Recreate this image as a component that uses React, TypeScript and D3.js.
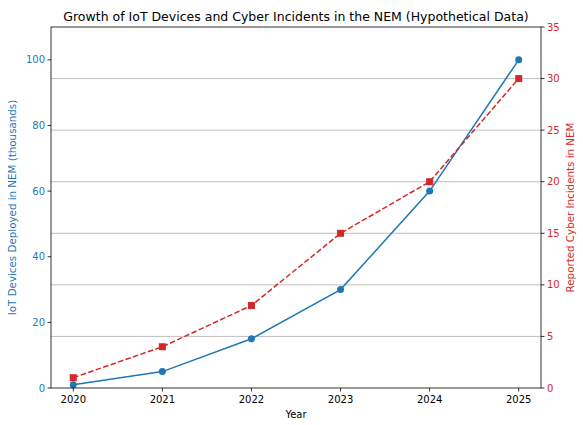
import React from 'react';
import * as d3 from 'd3';

const years = [2020, 2021, 2022, 2023, 2024, 2025];
const iotDevices = [1, 5, 15, 30, 60, 100];
const cyberIncidents = [1, 4, 8, 15, 20, 30];
const leftTicks = [0, 20, 40, 60, 80, 100];
const rightTicks = [0, 5, 10, 15, 20, 25, 30, 35];

const W = 583;
const H = 425;
const margin = { top: 27, right: 42, bottom: 37, left: 51 };
const BLUE = '#1f77b4';
const RED = '#d62728';
const FONT = 'DejaVu Sans, sans-serif';

export default function App() {
  const iw = W - margin.left - margin.right;
  const ih = H - margin.top - margin.bottom;

  const x = d3.scaleLinear().domain([2019.75, 2025.25]).range([0, iw]);
  const yL = d3.scaleLinear().domain([0, 110]).range([ih, 0]);
  const yR = d3.scaleLinear().domain([0, 35]).range([ih, 0]);

  const blueLine = d3
    .line<number>()
    .x((_, i) => x(years[i]))
    .y((d) => yL(d))(iotDevices);
  const redLine = d3
    .line<number>()
    .x((_, i) => x(years[i]))
    .y((d) => yR(d))(cyberIncidents);

  return (
    <svg width={W} height={H} style={{ position: 'absolute', left: 0, top: 0 }} fontFamily={FONT}>
      <rect width={W} height={H} fill="#fff" />
      <text x={margin.left + iw / 2} y={20.5} textAnchor="middle" fontSize={12.5} fill="#000">
        Growth of IoT Devices and Cyber Incidents in the NEM (Hypothetical Data)
      </text>
      <g transform={`translate(${margin.left},${margin.top})`}>
        {/* grid from right axis */}
        {rightTicks.slice(1, -1).map((t) => (
          <line key={t} x1={0} x2={iw} y1={yR(t)} y2={yR(t)} stroke="#b0b0b0" strokeWidth={0.8} />
        ))}

        <path d={blueLine ?? ''} fill="none" stroke={BLUE} strokeWidth={1.5} />
        {iotDevices.map((v, i) => (
          <circle key={i} cx={x(years[i])} cy={yL(v)} r={3.5} fill={BLUE} />
        ))}
        <path d={redLine ?? ''} fill="none" stroke={RED} strokeWidth={1.5} strokeDasharray="5.5,2.4" />
        {cyberIncidents.map((v, i) => (
          <rect key={i} x={x(years[i]) - 3.5} y={yR(v) - 3.5} width={7} height={7} fill={RED} />
        ))}

        {/* frame */}
        <rect x={0} y={0} width={iw} height={ih} fill="none" stroke="#000" strokeWidth={0.8} />

        {/* x axis */}
        {years.map((t) => (
          <g key={t} transform={`translate(${x(t)},${ih})`}>
            <line y2={3.5} stroke="#000" strokeWidth={0.8} />
            <text y={15} textAnchor="middle" fontSize={10} fill="#000">
              {t}
            </text>
          </g>
        ))}
        <text x={iw / 2} y={ih + 30} textAnchor="middle" fontSize={10} fill="#000">
          Year
        </text>

        {/* left axis */}
        {leftTicks.map((t) => (
          <g key={t} transform={`translate(0,${yL(t)})`}>
            <line x2={-3.5} stroke="#000" strokeWidth={0.8} />
            <text x={-6} dy="0.35em" textAnchor="end" fontSize={10} fill={BLUE}>
              {t}
            </text>
          </g>
        ))}
        <text
          transform={`translate(${-35},${ih / 2}) rotate(-90)`}
          textAnchor="middle"
          fontSize={10.3}
          fill={BLUE}
        >
          IoT Devices Deployed in NEM (thousands)
        </text>

        {/* right axis */}
        {rightTicks.map((t) => (
          <g key={t} transform={`translate(${iw},${yR(t)})`}>
            <line x2={3.5} stroke="#000" strokeWidth={0.8} />
            <text x={6} dy="0.35em" textAnchor="start" fontSize={10} fill={RED}>
              {t}
            </text>
          </g>
        ))}
        <text
          transform={`translate(${iw + 33},${ih / 2}) rotate(-90)`}
          textAnchor="middle"
          fontSize={10.3}
          fill={RED}
        >
          Reported Cyber Incidents in NEM
        </text>
      </g>
    </svg>
  );
}
